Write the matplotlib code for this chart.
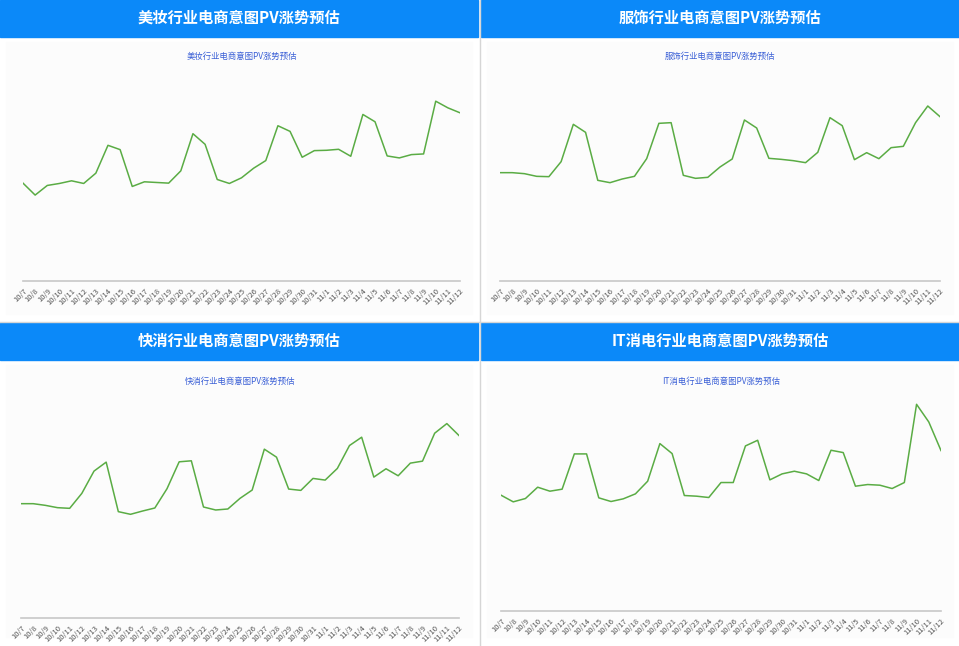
import matplotlib.pyplot as plt
from matplotlib.patches import Rectangle

plt.rcParams['font.family'] = ['Noto Sans CJK SC', 'DejaVu Sans']

W, H = 959, 646

DATES = ([f"10/{d}" for d in range(7, 32)] + [f"11/{d}" for d in range(1, 13)])

TITLES = ["美妆行业电商意图PV涨势预估", "服饰行业电商意图PV涨势预估",
          "快消行业电商意图PV涨势预估", "IT消电行业电商意图PV涨势预估"]

BEAUTY = [295, 259, 288, 294, 302, 294, 325, 409, 396, 285, 299, 297, 295, 332, 444,
          412, 306, 294, 311, 340, 363, 468, 451, 373, 393, 394, 397, 376, 502, 480,
          377, 371, 381, 383, 542, 522, 507]
APPAREL = [325, 325, 322, 314, 313, 358, 470, 446, 302, 295, 306, 314, 367, 473, 475,
           317, 308, 311, 342, 366, 483, 459, 368, 365, 361, 355, 386, 490, 466, 364,
           385, 367, 400, 404, 475, 525, 493]
FMCG = [344, 344, 339, 332, 330, 375, 442, 469, 320, 312, 322, 331, 389, 470, 473,
        334, 325, 328, 360, 385, 508, 484, 388, 384, 420, 415, 450, 519, 544, 424,
        449, 428, 466, 472, 556, 585, 549]
IT_ELEC = [348, 328, 338, 372, 360, 366, 472, 472, 340, 329, 337, 352, 390, 503, 473,
           347, 345, 341, 386, 386, 496, 513, 394, 412, 420, 412, 392, 483, 476, 375,
           380, 378, 368, 386, 621, 568, 482]

SERIES = [BEAUTY, APPAREL, FMCG, IT_ELEC]

# panel geometry in pixels: (x0, x1, top, baseline, ymax)
AXES_PX = [(23, 460, 71, 281, 633), (500, 940, 71, 281, 630),
           (21, 459, 396, 618, 668), (501, 941, 396, 611, 646)]
HEADERS = [(0, 0), (481, 0), (0, 323), (481, 323)]

fig = plt.figure(figsize=(W / 100, H / 100), dpi=100)
bg = fig.add_axes([0, 0, 1, 1])
bg.set_xlim(0, W)
bg.set_ylim(H, 0)
bg.axis('off')
bg.add_patch(Rectangle((0, 0), W, H, color='white'))
for (hx, hy), title in zip(HEADERS, TITLES):
    bg.add_patch(Rectangle((hx + 6, hy + 42), 466, 272, color='#fcfcfc'))
    bg.add_patch(Rectangle((hx, hy), 478, 37, color='#0b89f9'))
    bg.text(hx + 239, hy + 18, title, color='white', fontsize=11, fontweight='bold',
            ha='center', va='center')
bg.axvline(480, color='#d6d6d6', lw=1)
bg.axhline(322, color='#d6d6d6', lw=1)

for (x0, x1, top, base, ymax), vals, title in zip(AXES_PX, SERIES, TITLES):
    ax = fig.add_axes([x0 / W, 1 - base / H, (x1 - x0) / W, (base - top) / H])
    ax.patch.set_alpha(0)
    ax.plot(range(len(DATES)), vals, color='#5aac44', lw=1.1)
    ax.set_xlim(0, len(DATES) - 1)
    ax.set_ylim(0, ymax)
    ax.set_xticks(range(len(DATES)))
    ax.set_xticklabels(DATES, rotation=45, ha='right', rotation_mode='anchor',
                       fontsize=5.5, color='#555555')
    ax.tick_params(axis='x', length=0, pad=4)
    ax.set_yticks([])
    for s in ['top', 'right', 'left']:
        ax.spines[s].set_visible(False)
    ax.spines['bottom'].set_color('#c8c8c8')
    ax.spines['bottom'].set_linewidth(1.2)
    bg.text((x0 + x1) / 2, top - 15, title, color='#3a5fd6', fontsize=6,
            ha='center', va='center')

fig.savefig('out.png', dpi=100)
